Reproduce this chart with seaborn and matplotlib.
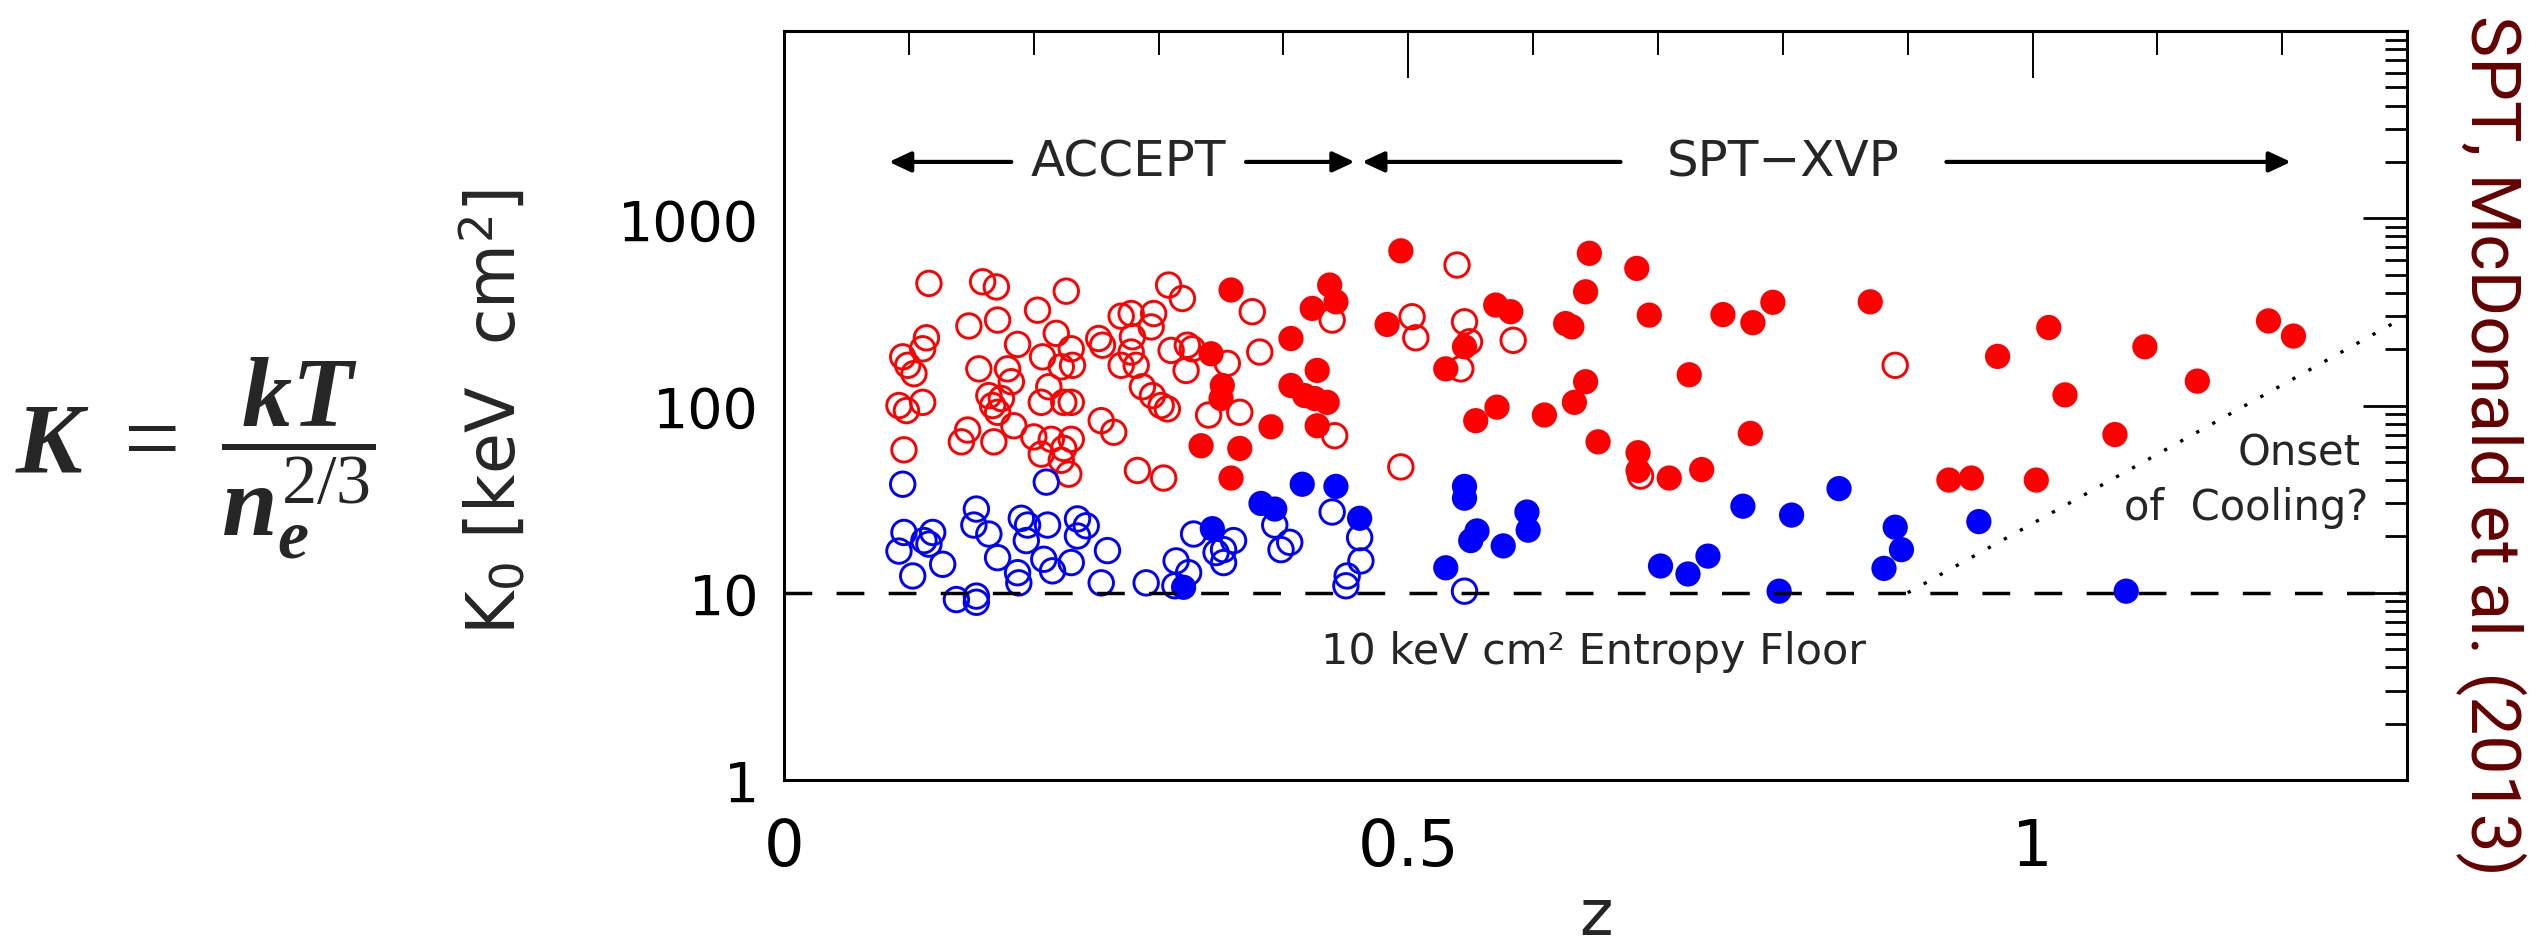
import pandas as pd
import seaborn as sns
import matplotlib.pyplot as plt
from matplotlib import font_manager
from matplotlib.ticker import LogLocator, NullFormatter, MultipleLocator

# ACCEPT clusters (open circles): red = high K0, blue = low K0
accept_red_z = [0.116, 0.159, 0.170, 0.226, 0.203, 0.171, 0.148, 0.114, 0.111, 0.095,
                0.099, 0.104, 0.187, 0.218, 0.207, 0.230, 0.222, 0.231, 0.252, 0.255,
                0.156, 0.179, 0.182, 0.092, 0.098, 0.111, 0.164, 0.167, 0.171, 0.174,
                0.206, 0.212, 0.224, 0.230, 0.254, 0.264, 0.184, 0.147, 0.142, 0.168,
                0.200, 0.206, 0.214, 0.224, 0.230, 0.222, 0.228, 0.096,
                0.308, 0.319, 0.278, 0.296, 0.294, 0.279, 0.270, 0.310, 0.323, 0.327,
                0.322, 0.278, 0.270, 0.282, 0.287, 0.295, 0.302, 0.307, 0.283, 0.304,
                0.355, 0.375, 0.381, 0.340, 0.365, 0.439, 0.441,
                0.539, 0.503, 0.506, 0.545, 0.549, 0.542, 0.584, 0.494, 0.686, 0.890]
accept_red_k = [449, 458, 430, 408, 323, 286, 266, 230, 201, 182,
                164, 148, 212, 243, 182, 201, 161, 164, 228, 210,
                157, 157, 134, 100, 94, 104, 113, 100, 92, 109,
                104, 126, 104, 104, 83, 72, 78, 74, 64, 64,
                68, 55, 66, 59, 66, 51, 43, 58,
                440, 373, 310, 310, 263, 233, 300, 197, 210, 201,
                154, 193, 164, 164, 126, 113, 100, 96, 45, 41,
                168, 317, 193, 89, 92, 286, 69,
                563, 298, 230, 280, 219, 157, 223, 47, 42, 164]

accept_blue_z = [0.095, 0.210, 0.154, 0.152, 0.164, 0.096, 0.092, 0.112, 0.119, 0.116,
                 0.127, 0.103, 0.171, 0.190, 0.195, 0.211, 0.194, 0.187, 0.188, 0.208,
                 0.215, 0.230, 0.235, 0.242, 0.235, 0.259, 0.254, 0.138, 0.154, 0.154,
                 0.328, 0.360, 0.352, 0.346, 0.352, 0.314, 0.324, 0.290, 0.313, 0.393,
                 0.398, 0.405, 0.439, 0.461, 0.462, 0.451, 0.450, 0.545]
accept_blue_k = [38, 39, 28, 23, 20.6, 21, 16.7, 19, 21, 18.2,
                 14.2, 12.3, 15.4, 25, 23, 23, 19, 12.8, 11.3, 15.1,
                 13.1, 14.5, 24.8, 22.8, 20.1, 16.8, 11.3, 9.2, 9.6, 8.9,
                 20.6, 19, 17, 16.4, 14.5, 14.8, 12.8, 11.3, 10.9, 23,
                 17, 18.6, 27, 19.7, 14.8, 12.3, 10.9, 10.2]

# SPT-XVP clusters (filled circles)
spt_red_z = [0.358, 0.342, 0.351, 0.350, 0.334, 0.365, 0.358, 0.390, 0.406, 0.427,
             0.406, 0.417, 0.425, 0.435, 0.427, 0.437, 0.442, 0.423,
             0.494, 0.483, 0.530, 0.545, 0.570, 0.582, 0.554, 0.571, 0.609, 0.626,
             0.631, 0.642, 0.645, 0.633, 0.642, 0.652, 0.683, 0.693, 0.684, 0.684,
             0.709, 0.725, 0.735, 0.752, 0.776, 0.774,
             0.792, 0.870, 0.972, 1.013, 1.026, 1.066, 1.090, 0.933, 0.951, 1.003,
             1.132, 1.189, 1.209]
spt_red_k = [414, 189, 128, 109, 61, 59, 41, 77, 228, 154,
             128, 113, 109, 104, 78, 440, 358, 330,
             670, 271, 157, 206, 344, 317, 83, 98, 89, 274,
             263, 405, 650, 104, 134, 64, 540, 304, 56, 45,
             41, 146, 45.5, 306, 277, 71,
             356, 358, 183, 261, 114, 70, 206, 40, 41, 40,
             135, 283, 235]

spt_blue_z = [0.415, 0.442, 0.382, 0.393, 0.461, 0.343, 0.320,
              0.545, 0.545, 0.555, 0.550, 0.576, 0.595, 0.596, 0.530, 0.702, 0.724,
              0.740, 0.768, 0.807, 0.845, 0.890, 0.895, 0.881, 0.797, 0.957, 1.075]
spt_blue_k = [38, 37, 30, 28, 25, 22, 10.7,
              37, 32, 21.4, 19, 17.8, 27, 21.6, 13.6, 13.9, 12.6,
              15.7, 29, 26, 36, 22.4, 17, 13.5, 10.2, 24, 10.2]

floor_k = 10
cooling_z = [0.90, 1.30]
cooling_k = [10, 302]

sns.set_style('white')
names = {f.name for f in font_manager.fontManager.ttflist}
narrow = 'Liberation Sans Narrow' if 'Liberation Sans Narrow' in names else 'DejaVu Sans'
cite_font = 'Liberation Sans Narrow' if 'Liberation Sans Narrow' in names else 'Roboto'
plt.rcParams['font.family'] = ['DejaVu Sans']
plt.rcParams['mathtext.fontset'] = 'custom'
plt.rcParams['mathtext.rm'] = 'Liberation Serif'
plt.rcParams['mathtext.it'] = 'Liberation Serif:italic:bold'
plt.rcParams['mathtext.bf'] = 'Liberation Serif:bold'
plt.rcParams['mathtext.sf'] = 'DejaVu Sans'

fig = plt.figure(figsize=(25.45, 9.45), dpi=100)
ax = fig.add_axes([0.3081, 0.1735, 0.6377, 0.7926])

df_ar = pd.DataFrame({'z': accept_red_z, 'K0': accept_red_k})
df_ab = pd.DataFrame({'z': accept_blue_z, 'K0': accept_blue_k})
df_sr = pd.DataFrame({'z': spt_red_z, 'K0': spt_red_k})
df_sb = pd.DataFrame({'z': spt_blue_z, 'K0': spt_blue_k})

sns.scatterplot(data=df_ar, x='z', y='K0', ax=ax, s=310, facecolor='none',
                edgecolor='#ff0000', linewidth=2.1, zorder=2)
sns.scatterplot(data=df_ab, x='z', y='K0', ax=ax, s=310, facecolor='none',
                edgecolor='#0000ff', linewidth=2.1, zorder=2)
sns.scatterplot(data=df_sr, x='z', y='K0', ax=ax, s=330, color='#ff0000',
                edgecolor='none', linewidth=0, zorder=3)
sns.scatterplot(data=df_sb, x='z', y='K0', ax=ax, s=330, color='#0000ff',
                edgecolor='none', linewidth=0, zorder=3)

ax.axhline(floor_k, color='black', lw=2.5, ls=(0, (8, 7)), zorder=4)
ax.plot(cooling_z, cooling_k, color='black', lw=2.4, ls=(0, (1, 4.5)), zorder=4)

ax.set_yscale('log')
ax.set_xlim(0, 1.3)
ax.set_ylim(1, 1e4)
ax.set_yticks([1, 10, 100, 1000], labels=['1', '10', '100', '1000'])
ax.yaxis.set_minor_locator(LogLocator(base=10, subs=range(2, 10)))
ax.yaxis.set_minor_formatter(NullFormatter())
ax.set_xticks([0, 0.5, 1], labels=['0', '0.5', '1'])
ax.xaxis.set_minor_locator(MultipleLocator(0.1))

for sp in ax.spines.values():
    sp.set_linewidth(2.2)
    sp.set_color('black')
ax.tick_params(which='both', direction='in', top=True, right=True, colors='black')
ax.tick_params(axis='y', which='major', length=32, width=2.0, pad=18, labelsize=40)
ax.tick_params(axis='y', which='minor', length=16, width=2.0)
ax.tick_params(axis='x', which='major', length=34, width=1.4, pad=26, labelsize=46)
ax.tick_params(axis='x', which='minor', length=17, width=1.4)
for lab in ax.get_xticklabels():
    lab.set_family(narrow)

ax.set_xlabel('z', fontsize=46, family=narrow, va='baseline')
ax.xaxis.set_label_coords(0.5, -0.206)
ax.set_ylabel(r'K$_\mathsf{0}$ [keV  cm$^\mathsf{2}$]', fontsize=48, va='baseline')
ax.yaxis.set_label_coords(-0.166, 0.493)

# survey ranges along the top
ky = 2000
arr = dict(arrowstyle='-|>,head_length=0.6,head_width=0.28', lw=3, color='black',
           shrinkA=0, shrinkB=0, mutation_scale=22)
ax.annotate('', xy=(0.084, ky), xytext=(0.182, ky), arrowprops=arr)
ax.annotate('', xy=(0.457, ky), xytext=(0.370, ky), arrowprops=arr)
ax.text(0.276, ky, 'ACCEPT', ha='center', va='center', fontsize=36)
ax.annotate('', xy=(0.463, ky), xytext=(0.670, ky), arrowprops=arr)
ax.annotate('', xy=(1.207, ky), xytext=(0.931, ky), arrowprops=arr)
ax.text(0.800, ky, 'SPT\u2212XVP', ha='center', va='center', fontsize=36)

ax.text(0.648, 4.2, '10 keV cm\u00b2 Entropy Floor', ha='center', va='baseline', fontsize=31)
ax.text(1.263, 48.7, 'Onset', ha='right', va='baseline', fontsize=30)
ax.text(1.269, 24.8, 'of  Cooling?', ha='right', va='baseline', fontsize=30)

fig.text(0.0766, 0.515, r'$K\ =\ \dfrac{kT}{n_e^{2/3}}$', ha='center', va='center', fontsize=72)
fig.text(0.979, 0.529, 'SPT, McDonald et al. (2013)', rotation=-90, ha='center', va='center',
         fontsize=50, family=cite_font, color='#660000')

fig.savefig('out.png', dpi=100)
